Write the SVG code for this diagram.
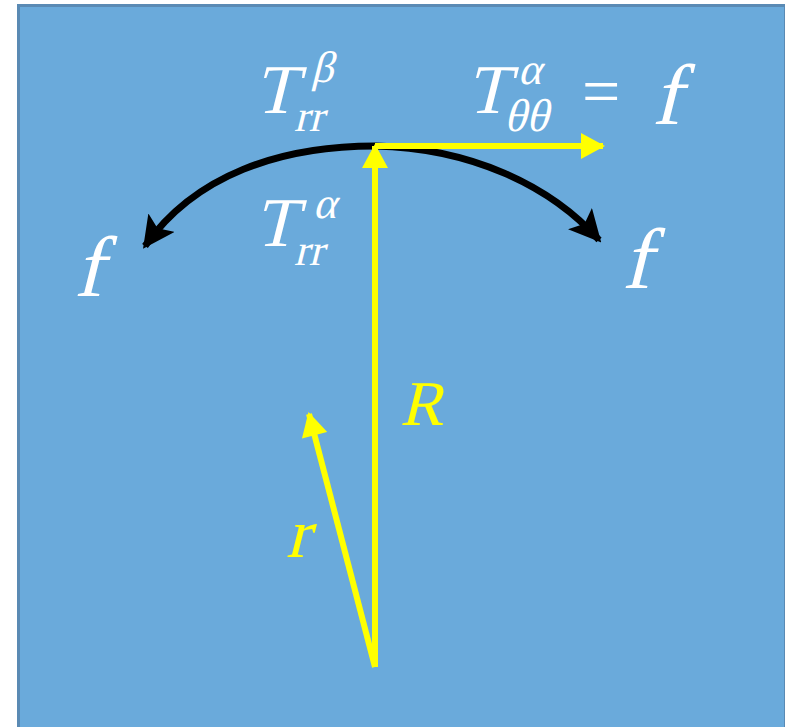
<svg xmlns="http://www.w3.org/2000/svg" width="785" height="727" viewBox="0 0 785 727">
<style>
text{font-family:'Liberation Serif',serif;font-style:normal;fill:#ffffff}
.y{fill:#ffff00}
.yl{stroke:#ffff00;stroke-width:6;fill:none}
.bl{stroke:#000000;stroke-width:7;fill:none}
</style>
<defs>
<marker id="ya" markerUnits="userSpaceOnUse" markerWidth="26" markerHeight="26" viewBox="0 0 24 26" refX="22" refY="13" orient="auto">
<path d="M0,0 L24,13 L0,26 Z" fill="#ffff00"/>
</marker>
<marker id="ba" markerUnits="userSpaceOnUse" markerWidth="32" markerHeight="32" viewBox="0 0 28 28" refX="25" refY="14" orient="auto">
<path d="M0,0 L28,14 L0,28 L6,14 Z" fill="#000000"/>
</marker>
</defs>
<rect x="18.5" y="5.5" width="767" height="730" fill="#6aaadb" stroke="#5a8ab4" stroke-width="3"/>
<g id="connectors">
<path class="bl" d="M375,146 C280,146 195,175 145,246" marker-end="url(#ba)"/>
<path class="bl" d="M375,146 C470,148 550,185 599,240" marker-end="url(#ba)"/>
<line class="yl" x1="375" y1="667" x2="375" y2="146" marker-end="url(#ya)"/>
<line class="yl" x1="375" y1="146" x2="603" y2="146" marker-end="url(#ya)"/>
<line class="yl" x1="375" y1="667" x2="309" y2="414" marker-end="url(#ya)"/>
</g>
<g id="label-Trr-beta">
<text transform="translate(254,113) skewX(-14)" font-size="70">T</text>
<text transform="translate(311,82) skewX(-14)" font-size="44">β</text>
<text transform="translate(294,131) skewX(-14)" font-size="44">rr</text>
</g>
<g id="label-Ttt-alpha">
<text transform="translate(466,113) skewX(-14)" font-size="70">T</text>
<text transform="translate(518,84) skewX(-14)" font-size="44">α</text>
<text transform="translate(504,131) skewX(-14)" font-size="46">θθ</text>
<text x="582" y="114" font-size="68">=</text>
<text transform="translate(652,124) skewX(-14)" font-size="86">f</text>
</g>
<g id="label-Trr-alpha">
<text transform="translate(254,246) skewX(-14)" font-size="70">T</text>
<text transform="translate(313,218) skewX(-14)" font-size="44">α</text>
<text transform="translate(294,265) skewX(-14)" font-size="44">rr</text>
</g>
<g id="label-f-left">
<text transform="translate(74,296) skewX(-14)" font-size="86">f</text>
</g>
<g id="label-f-right">
<text transform="translate(622,288) skewX(-14)" font-size="86">f</text>
</g>
<g id="label-R">
<text class="y" transform="translate(400,425) skewX(-14)" font-size="64">R</text>
</g>
<g id="label-r">
<text class="y" transform="translate(286,557) skewX(-14)" font-size="70">r</text>
</g>
</svg>
